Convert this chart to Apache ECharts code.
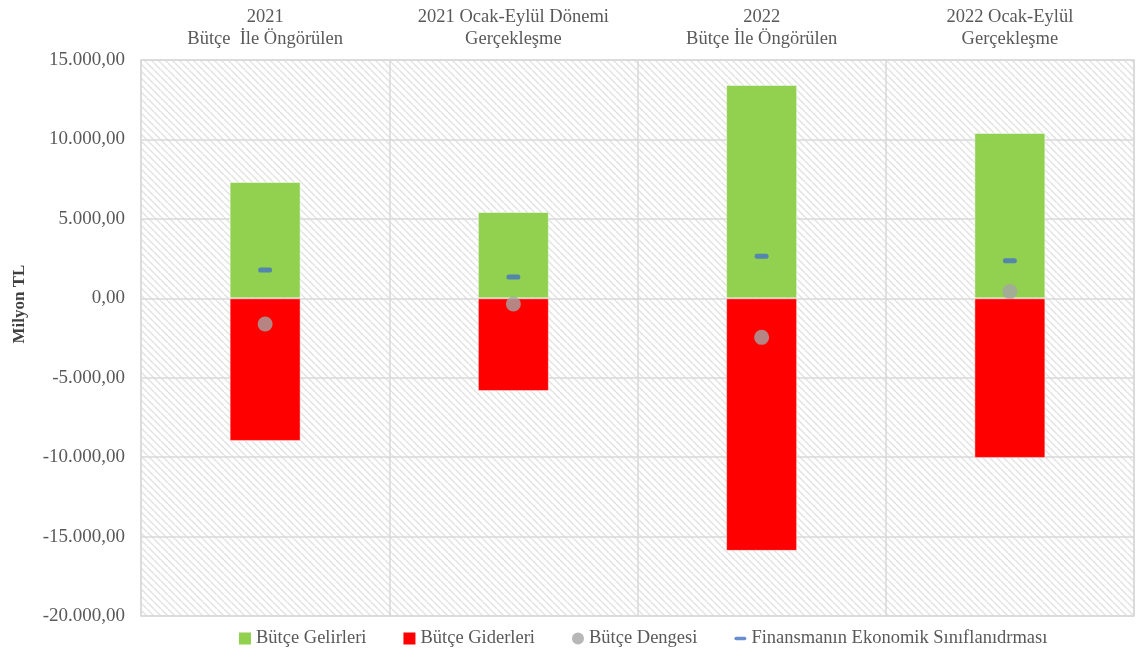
<!DOCTYPE html>
<html><head><meta charset="utf-8">
<script src="https://cdn.jsdelivr.net/npm/echarts@6/dist/echarts.min.js"></script>
<style>html,body{margin:0;padding:0;background:#fff}#c{width:1141px;height:654px}</style>
</head><body><div id="c"></div>
<script>
const categories = ['2021\nBütçe  İle Öngörülen', '2021 Ocak-Eylül Dönemi\nGerçekleşme', '2022\nBütçe İle Öngörülen', '2022 Ocak-Eylül\nGerçekleşme'];
const gelirler = [7320, 5430, 13430, 10410];
const giderler = [-8980, -5840, -15900, -10050];
const denge = [-1620, -360, -2460, 420];
const finansman = [1780, 1340, 2650, 2360];
const seriesNames = ['Bütçe Gelirleri', 'Bütçe Giderleri', 'Bütçe Dengesi', 'Finansmanın Ekonomik Sınıflanıdrması'];

const tile = document.createElement('canvas');
const s = 7; tile.width = s; tile.height = s;
const tc = tile.getContext('2d');
tc.fillStyle = '#ffffff'; tc.fillRect(0,0,s,s);
tc.strokeStyle = '#e2e2e2'; tc.lineWidth = 1.4;
for (const o of [-s, 0, s]) { tc.beginPath(); tc.moveTo(o, 0); tc.lineTo(o + s, s); tc.stroke(); }

const fmt = v => {
  const neg = v < 0; const a = Math.abs(v);
  const int = Math.floor(a).toString().replace(/\B(?=(\d{3})+(?!\d))/g, '.');
  return (neg ? '-' : '') + int + ',00';
};
const font = 'Liberation Serif';
const dash = 'path://M2,0 L12,0 A2,2 0 0 1 12,4 L2,4 A2,2 0 0 1 2,0 Z';
const chart = echarts.init(document.getElementById('c'), null, {renderer: 'canvas'});
chart.setOption({
  animation: false,
  textStyle: {fontFamily: font},
  grid: {left: 141, right: 7, top: 60, bottom: 38, show: true, borderColor: '#d9d9d9', borderWidth: 1.5,
         backgroundColor: {image: tile, repeat: 'repeat'}},
  graphic: [{type: 'text', x: 20, y: 304, rotation: Math.PI / 2,
    style: {text: 'Milyon TL', fontFamily: font, fontSize: 17, fontWeight: 'bold', fill: '#404040',
            align: 'center', verticalAlign: 'middle'}}],
  legend: {bottom: 1, left: 234, itemGap: 37, itemWidth: 12, itemHeight: 12,
    textStyle: {fontFamily: font, fontSize: 18.5, color: '#595959'},
    data: [
      {name: seriesNames[0], icon: 'rect', itemStyle: {borderWidth: 0}},
      {name: seriesNames[1], icon: 'rect', itemStyle: {borderWidth: 0}},
      {name: seriesNames[2], icon: 'circle'},
      {name: seriesNames[3], icon: dash}
    ]},
  xAxis: {type: 'category', data: categories, position: 'top',
    axisLine: {show: false}, axisTick: {show: false},
    axisLabel: {interval: 0, fontFamily: font, fontSize: 18.5, color: '#595959', lineHeight: 22, margin: 10},
    splitLine: {show: true, interval: 0, lineStyle: {color: '#d9d9d9', width: 1.5}}},
  yAxis: {type: 'value', min: -20000, max: 15000, interval: 5000,
    axisLine: {show: false}, axisTick: {show: false},
    axisLabel: {fontFamily: font, fontSize: 19, color: '#595959', margin: 16, formatter: fmt},
    splitLine: {lineStyle: {color: '#d9d9d9', width: 1.5}}},
  series: [
    {name: seriesNames[0], type: 'bar', stack: 'b', data: gelirler, barWidth: '28.6%',
     itemStyle: {color: '#92D050', borderColor: 'rgba(255,255,255,0.45)', borderWidth: 1}},
    {name: seriesNames[1], type: 'bar', stack: 'b', data: giderler, barWidth: '28.6%',
     itemStyle: {color: '#FF0000', borderColor: 'rgba(255,255,255,0.45)', borderWidth: 1}},
    {name: seriesNames[2], type: 'scatter', data: denge, symbol: 'circle', symbolSize: 15, z: 5,
     itemStyle: {color: '#A5A5A5'}},
    {name: seriesNames[3], type: 'scatter', data: finansman, z: 6,
     symbol: dash, symbolSize: [14, 5], itemStyle: {color: '#4472C4'}}
  ]
});
</script></body></html>
